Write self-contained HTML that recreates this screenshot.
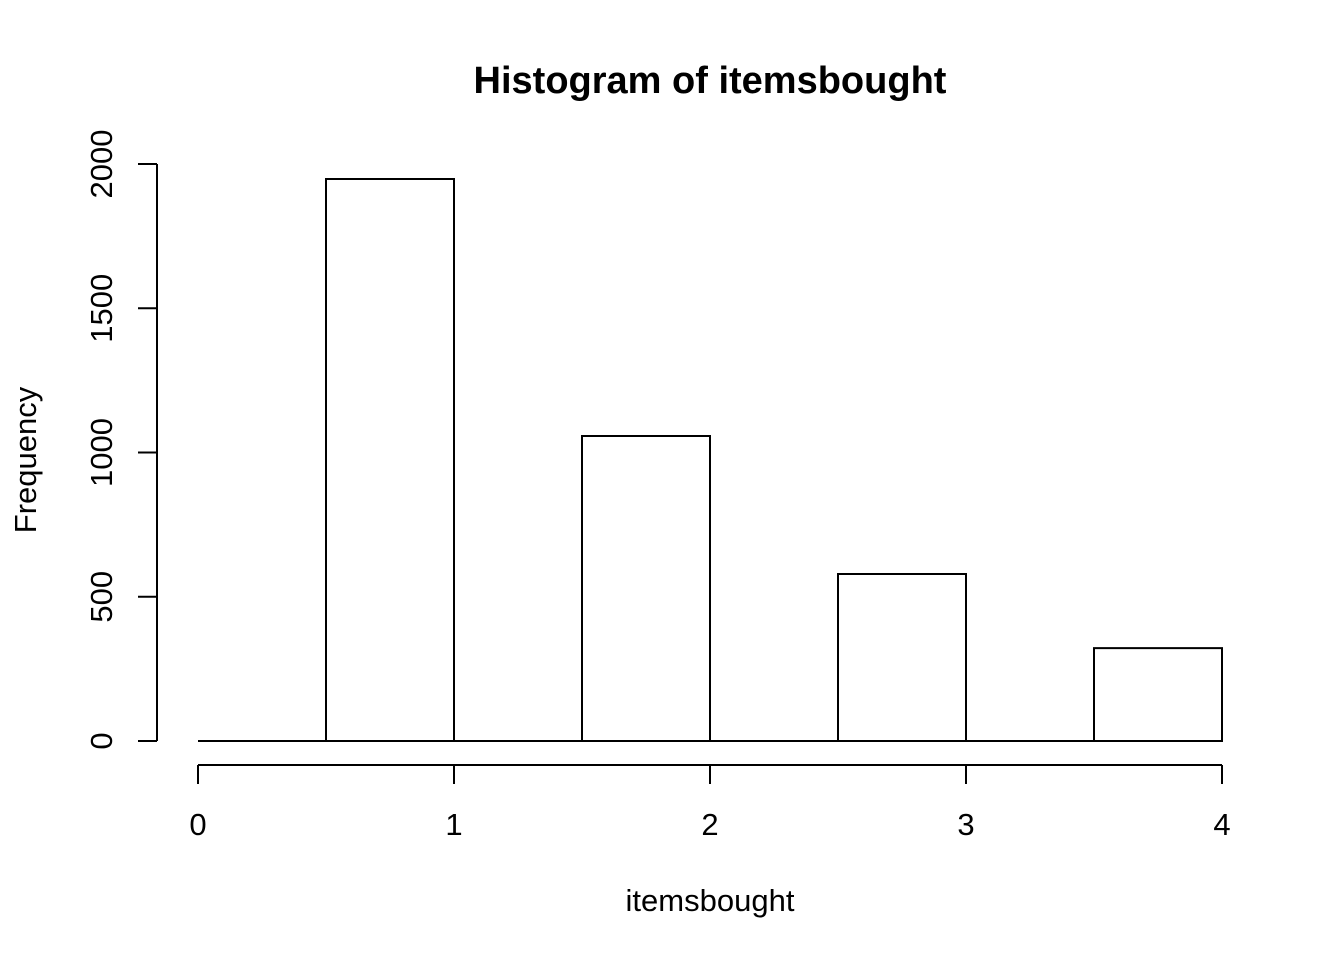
<!DOCTYPE html>
<html><head><meta charset="utf-8"><style>body{margin:0;background:#fff}</style></head>
<body>
<svg id="chart" width="1344" height="960" xmlns="http://www.w3.org/2000/svg" font-family="Liberation Sans, sans-serif">
<text x="710" y="93" text-anchor="middle" font-size="38" font-weight="bold">Histogram of itemsbought</text>
<text x="710" y="911" text-anchor="middle" font-size="31">itemsbought</text>
<text transform="translate(36,460) rotate(-90)" text-anchor="middle" font-size="31">Frequency</text>
<g id="bars"></g><g id="xaxis"></g><g id="yaxis"></g>
</svg>
<script>
const breaks = [0, 0.5, 1, 1.5, 2, 2.5, 3, 3.5, 4];
const counts = [0, 1948, 0, 1057, 0, 579, 0, 322];
const xTicks = [0, 1, 2, 3, 4];
const yTicks = [0, 500, 1000, 1500, 2000];
const NS = 'http://www.w3.org/2000/svg';
const xs = v => 198 + v * 256;
const ys = v => 741 - v * 0.2885;
function mk(tag, attrs, parent) {
  const e = document.createElementNS(NS, tag);
  for (const k in attrs) e.setAttribute(k, attrs[k]);
  parent.appendChild(e); return e;
}
const bars = document.getElementById('bars');
counts.forEach((c, i) => {
  const x0 = xs(breaks[i]), x1 = xs(breaks[i + 1]);
  const y0 = ys(0), y1 = ys(c);
  const r = mk('path', {d: `M${x0},${y0} L${x0},${y1} L${x1},${y1} L${x1},${y0} Z`, fill: 'none', stroke: '#000', 'stroke-width': 2}, bars);
  
  
});
const xa = document.getElementById('xaxis');


mk('line', {x1: xs(xTicks[0]), x2: xs(xTicks[xTicks.length - 1]), y1: 765, y2: 765, stroke: '#000', 'stroke-width': 2}, xa);
xTicks.forEach(t => {
  mk('line', {x1: xs(t), x2: xs(t), y1: 765, y2: 784, stroke: '#000', 'stroke-width': 2}, xa);
  const tx = mk('text', {x: xs(t), y: 835, 'text-anchor': 'middle', 'font-size': 31}, xa);
  tx.textContent = t;
  
  
});
const ya = document.getElementById('yaxis');


mk('line', {x1: 157, x2: 157, y1: ys(yTicks[0]), y2: ys(yTicks[yTicks.length - 1]), stroke: '#000', 'stroke-width': 2}, ya);
yTicks.forEach(t => {
  mk('line', {x1: 138, x2: 157, y1: ys(t), y2: ys(t), stroke: '#000', 'stroke-width': 2}, ya);
  const tx = mk('text', {transform: `translate(112,${ys(t)}) rotate(-90)`, 'text-anchor': 'middle', 'font-size': 31}, ya);
  tx.textContent = t;
  
  
});
</script>
</body></html>
